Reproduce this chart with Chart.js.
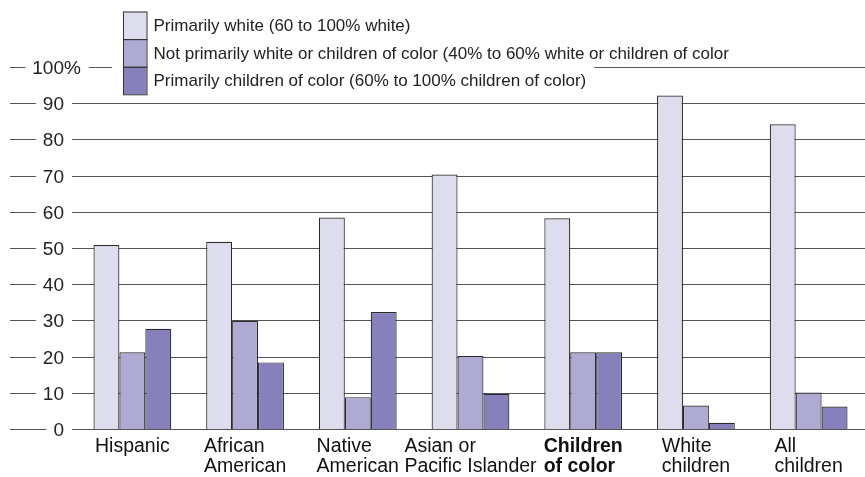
<!DOCTYPE html>
<html>
<head>
<meta charset="utf-8">
<script src="https://cdn.jsdelivr.net/npm/chart.js@4.4.1/dist/chart.umd.min.js"></script>
<style>
  html, body { margin: 0; padding: 0; background: #fff; }
  #wrap { width: 865px; height: 477px; }
</style>
</head>
<body>
<div id="wrap"><canvas id="myChart"></canvas></div>
<script>
const categories = ['Hispanic', ['African', 'American'], ['Native', 'American'], ['Asian or', 'Pacific Islander'], ['Children', 'of color'], ['White', 'children'], ['All', 'children']];
const seriesLabels = [
  'Primarily white (60 to 100% white)',
  'Not primarily white or children of color (40% to 60% white or children of color',
  'Primarily children of color (60% to 100% children of color)'
];
const primarilyWhite = [50.8, 51.7, 58.4, 70.3, 58.2, 92.1, 84.2];
const notPrimarily = [21.2, 29.9, 8.8, 20.2, 21.2, 6.5, 10.1];
const primarilyColor = [27.7, 18.4, 32.3, 9.7, 21.2, 1.7, 6.2];
const yTicks = [0, 10, 20, 30, 40, 50, 60, 70, 80, 90, 100];
const yTickLabels = ['0', '10', '20', '30', '40', '50', '60', '70', '80', '90', '100%'];

const FONT = '"Liberation Sans", Arial, sans-serif';
const colors = ['#dedded', '#afaad3', '#8680bb'];
const boldIndex = 4;

// gridlines run across the whole width, labels sit in a gap in them
const sideGrid = {
  id: 'sideGrid',
  beforeDatasetsDraw(chart) {
    const { ctx, scales: { y } } = chart;
    ctx.save();
    ctx.font = '19px ' + FONT;
    ctx.textBaseline = 'middle';
    ctx.textAlign = 'left';
    yTicks.forEach((v, i) => {
      const py = Math.round(y.getPixelForValue(v)) + 0.5;
      const label = yTickLabels[i];
      const numW = ctx.measureText(label.replace('%', '')).width;
      const fullW = ctx.measureText(label).width;
      const right = 64;
      ctx.fillStyle = '#222';
      ctx.fillText(label, right - numW, py + 1);
      ctx.strokeStyle = '#555';
      ctx.lineWidth = 1.2;
      ctx.beginPath();
      ctx.moveTo(10, py);
      ctx.lineTo(right - numW - 7, py);
      ctx.moveTo(right - numW + fullW + 8, py);
      ctx.lineTo(chart.width, py);
      ctx.stroke();
    });
    ctx.restore();
  }
};

// category labels: block centred under the group, lines left aligned
const groupLabels = {
  id: 'groupLabels',
  afterDraw(chart) {
    const { ctx, scales: { x } } = chart;
    ctx.save();
    ctx.textAlign = 'left';
    ctx.textBaseline = 'alphabetic';
    ctx.fillStyle = '#111';
    chart.data.labels.forEach((lab, i) => {
      const lines = [].concat(lab);
      ctx.font = (i === boldIndex ? 'bold ' : '') + '19.5px ' + FONT;
      const w = Math.max(...lines.map(l => ctx.measureText(l).width));
      const cx = x.getPixelForTick(i);
      lines.forEach((l, j) => ctx.fillText(l, cx - w / 2, x.top + 23 + j * 20));
    });
    ctx.restore();
  }
};

// stacked swatch legend in the top left
const stackLegend = {
  id: 'stackLegend',
  afterDraw(chart) {
    const { ctx } = chart;
    const x0 = 123, y0 = 11.5, bw = 23.5, bh = 27.6;
    ctx.save();
    ctx.font = '17px ' + FONT;
    ctx.textBaseline = 'middle';
    ctx.textAlign = 'left';
    chart.data.datasets.forEach((ds, i) => {
      const top = y0 + i * bh;
      const tw = ctx.measureText(ds.label).width;
      ctx.fillStyle = '#fff';
      ctx.fillRect(112, top, x0 + bw + 7 + tw + 8 - 112, bh);
      ctx.fillStyle = ds.backgroundColor;
      ctx.fillRect(x0, top, bw, bh);
      ctx.fillStyle = '#222';
      ctx.fillText(ds.label, x0 + bw + 7, top + bh / 2 + 1);
    });
    ctx.strokeStyle = '#333';
    ctx.lineWidth = 1;
    chart.data.datasets.forEach((ds, i) => {
      ctx.strokeRect(x0 + 0.5, y0 + i * bh + 0.5, bw, bh);
    });
    ctx.restore();
  }
};

const ctx = document.getElementById('myChart').getContext('2d');

let chart = new Chart(ctx, {
  type: 'bar',
  data: {
    labels: categories,
    datasets: [
      { label: seriesLabels[0], data: primarilyWhite, backgroundColor: colors[0] },
      { label: seriesLabels[1], data: notPrimarily, backgroundColor: colors[1] },
      { label: seriesLabels[2], data: primarilyColor, backgroundColor: colors[2] }
    ].map(ds => Object.assign(ds, {
      borderColor: '#2a2a2a',
      borderWidth: 1.2,
      categoryPercentage: 0.69,
      barPercentage: 1
    }))
  },
  options: {
    responsive: true,
    maintainAspectRatio: false,
    animation: false,
    layout: { padding: { left: 76, right: -14, top: 67, bottom: 0 } },
    plugins: {
      legend: { display: false },
      tooltip: { enabled: false }
    },
    scales: {
      x: {
        grid: { display: false, drawTicks: false },
        border: { display: false },
        ticks: { display: false },
        afterFit: s => { s.height = 48; s.paddingLeft = 0; s.paddingRight = 0; }
      },
      y: {
        display: false,
        min: 0,
        max: 100
      }
    }
  },
  plugins: [sideGrid, groupLabels, stackLegend]
});
</script>
</body>
</html>
